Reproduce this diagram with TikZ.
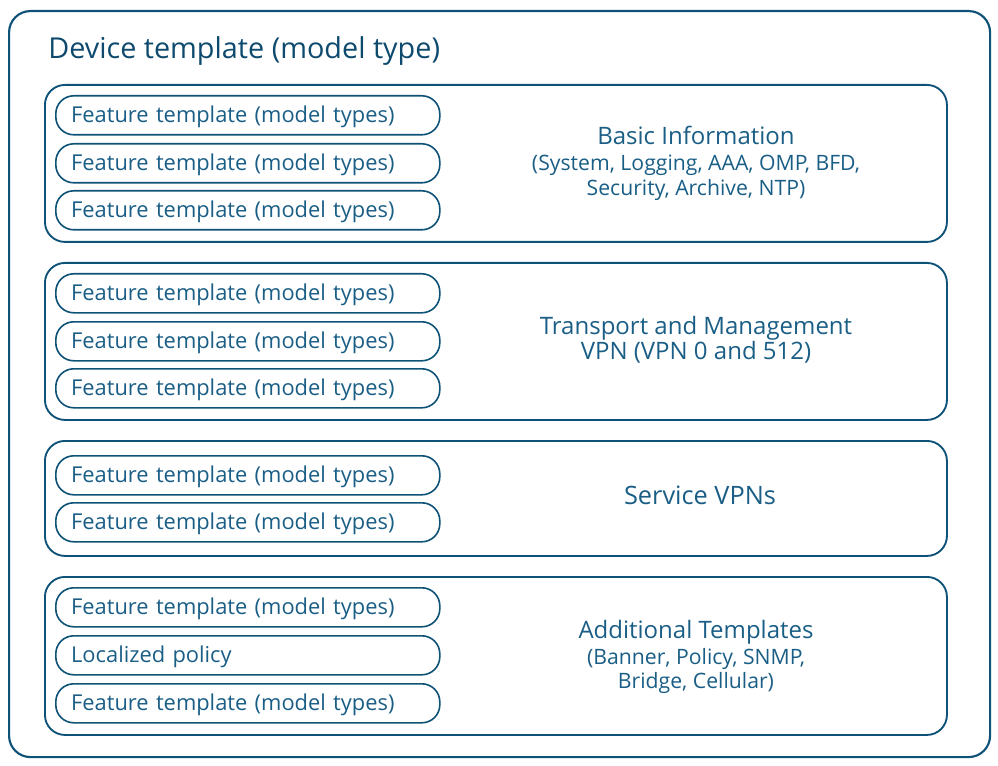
\documentclass[tikz,border=0pt]{standalone}
\usepackage{fontspec}
\setmainfont{Open Sans}
\definecolor{lineblue}{HTML}{0E5277}
\definecolor{textblue}{HTML}{1A5E86}
\definecolor{titleblue}{HTML}{0D4A6D}
\newcommand\subsz{\fontsize{15.9pt}{20pt}\selectfont}
\begin{document}
\begin{tikzpicture}[x=0.75pt,y=-0.75pt,
  outerbox/.style={draw=lineblue,line width=1.6pt,rounded corners=16pt},
  groupbox/.style={draw=lineblue,line width=1.4pt,rounded corners=15pt,anchor=north west,inner sep=0pt,minimum width=676.5pt},
  itembox/.style={draw=lineblue,line width=1.2pt,rounded corners=13.5pt,anchor=north west,inner xsep=11.5pt,inner ysep=0pt,
    text width=265pt,align=left,minimum height=29.25pt,text height=13pt,text depth=2.2pt,text=textblue,font=\fontsize{16.4pt}{19pt}\selectfont},
  grouplabel/.style={align=center,text=textblue,font=\fontsize{18pt}{20pt}\selectfont}
]
\useasboundingbox (0,0) rectangle (998,766);
\node[outerbox,anchor=north west,inner sep=0pt,minimum width=735.75pt,minimum height=559.5pt] (outer) at (8,10) {};
\node[anchor=west,text=titleblue,font=\fontsize{21.6pt}{24pt}\selectfont,inner sep=0pt] (title) at (48,51) {Device template (model type)};
% group 1
\node[groupbox,minimum height=117.75pt] (g1) at (44,84) {};
\node[itembox] (g1a) at (55,95) {Feature template (model types)};
\node[itembox] (g1b) at (55,143) {Feature template (model types)};
\node[itembox] (g1c) at (55,190) {Feature template (model types)};
\node[grouplabel] (l1) at (696,163.5) {Basic Information\\[-0.5pt]{\subsz (System, Logging, AAA, OMP, BFD,}\\[-1.5pt]{\subsz Security, Archive, NTP)}};
% group 2
\node[groupbox,minimum height=117.75pt] (g2) at (44,262) {};
\node[itembox] (g2a) at (55,273) {Feature template (model types)};
\node[itembox] (g2b) at (55,321) {Feature template (model types)};
\node[itembox] (g2c) at (55,368) {Feature template (model types)};
\node[grouplabel] (l2) at (696,340) {Transport and Management\\[-1.5pt]VPN (VPN 0 and 512)};
% group 3
\node[groupbox,minimum height=86.25pt] (g3) at (44,440) {};
\node[itembox] (g3a) at (55,455) {Feature template (model types)};
\node[itembox] (g3b) at (55,502) {Feature template (model types)};
\node[grouplabel,font=\fontsize{19pt}{20pt}\selectfont] (l3) at (700,495.5) {Service VPNs};
% group 4
\node[groupbox,minimum height=118.5pt] (g4) at (44,576) {};
\node[itembox] (g4a) at (55,587) {Feature template (model types)};
\node[itembox] (g4b) at (55,635) {Localized policy};
\node[itembox] (g4c) at (55,683) {Feature template (model types)};
\node[grouplabel] (l4) at (696,657) {Additional Templates\\[-0.5pt]{\subsz (Banner, Policy, SNMP,}\\[-1.5pt]{\subsz Bridge, Cellular)}};
\end{tikzpicture}
\end{document}
